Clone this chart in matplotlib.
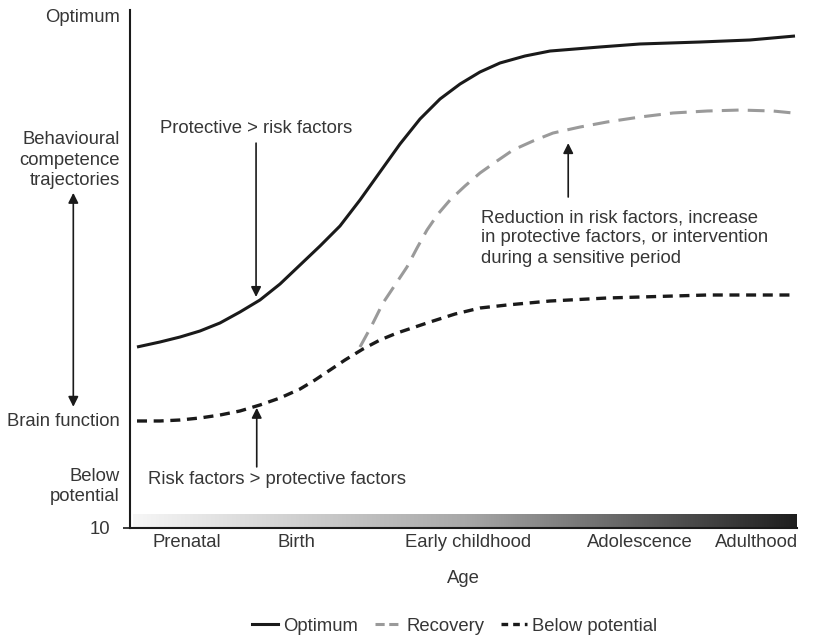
import numpy as np
import matplotlib
matplotlib.use("Agg")
import matplotlib.pyplot as plt
from matplotlib.lines import Line2D
from matplotlib.colors import LinearSegmentedColormap

plt.rcParams['font.family'] = ['Liberation Sans', 'DejaVu Sans']

# curves (x: 0-100 along age, y: 0-100 brain function)
opt_x = [1.05, 4.50, 7.50, 10.49, 13.49, 16.49, 19.49, 22.49, 25.49, 28.49, 31.48, 34.48, 37.48,
         40.48, 43.48, 46.48, 49.48, 52.47, 55.47, 59.22, 62.97, 70.46, 76.46, 85.46, 92.95, 99.70]
opt_y = [34.94, 35.91, 36.87, 38.03, 39.58, 41.70, 44.02, 47.10, 50.77, 54.44, 58.30, 63.32, 68.73,
         74.13, 78.96, 82.82, 85.71, 88.03, 89.77, 91.12, 92.08, 92.86, 93.44, 93.82, 94.21, 94.98]

rec_x = [34.48, 36.28, 37.93, 39.73, 41.53, 43.03, 44.53, 46.18, 47.98, 50.22, 52.47, 55.02,
         57.42, 60.42, 63.42, 67.47, 71.51, 76.46, 81.41, 86.51, 91.45, 96.40, 99.40]
rec_y = [34.94, 39.19, 43.44, 46.91, 50.39, 54.05, 57.53, 60.62, 63.32, 66.02, 68.53, 70.85,
         72.97, 74.71, 76.25, 77.41, 78.38, 79.34, 80.12, 80.50, 80.69, 80.50, 80.12]

below_x = [1.05, 4.50, 7.50, 10.49, 13.49, 16.49, 19.49, 22.49, 25.49, 27.74, 29.99, 32.23,
           34.93, 37.48, 40.03, 42.73, 44.98, 48.73, 52.47, 56.52, 62.97, 71.51, 86.51, 99.70]
below_y = [20.66, 20.66, 20.85, 21.24, 21.81, 22.59, 23.75, 25.10, 26.83, 28.57, 30.50, 32.43,
           34.56, 36.29, 37.64, 38.80, 39.77, 41.31, 42.47, 43.05, 43.82, 44.40, 44.98, 44.98]

stage_pos = [8.5, 25.0, 50.7, 76.5, 93.9]
stage_labels = ['Prenatal', 'Birth', 'Early childhood', 'Adolescence', 'Adulthood']

txt = '#363636'
fs = 13.3

fig = plt.figure(figsize=(8.18, 6.36), dpi=100)
ax = fig.add_axes([130/818, 108/636, 667/818, 518/636])

ax.plot(opt_x, opt_y, color='#1a1a1a', lw=2.2, solid_capstyle='butt', solid_joinstyle='round')
ax.plot(rec_x, rec_y, color='#9a9a9a', lw=2.2, dashes=(5.5, 3))
ax.plot(below_x, below_y, color='#1a1a1a', lw=2.4, dashes=(3, 2))

# gradient bar along the age axis
grad = np.linspace(0, 1, 256).reshape(1, -1)
gcmap = LinearSegmentedColormap.from_list('agebar', ['#f6f6f6', '#a8a8a8', '#1e1e1e'])
ax.imshow(grad, cmap=gcmap, aspect='auto', extent=[0.5, 100, 0, 2.6], zorder=1)

ax.set_xlim(0, 100)
ax.set_ylim(0, 100)
for s in ['top', 'right']:
    ax.spines[s].set_visible(False)
ax.spines['left'].set_color('#1a1a1a')
ax.spines['bottom'].set_color('#1a1a1a')
ax.spines['left'].set_linewidth(1.5)
ax.spines['bottom'].set_linewidth(1.5)

ax.set_xticks(stage_pos)
ax.set_xticklabels(stage_labels, fontsize=fs, color=txt)
ax.tick_params(axis='x', length=0, pad=4)
ax.set_yticks([0])
ax.set_yticklabels(['10'], fontsize=fs, color=txt)
ax.tick_params(axis='y', length=5, width=1.2, pad=9, color='#1a1a1a')
ax.set_xlabel('Age', fontsize=fs, color=txt, labelpad=14)

# left side labels
ax.text(-1.5, 98.5, 'Optimum', ha='right', va='center', fontsize=fs, color=txt, clip_on=False)
ax.text(-1.5, 71.0, 'Behavioural\ncompetence\ntrajectories', ha='right', va='center',
        fontsize=fs, color=txt, linespacing=1.25, clip_on=False)
ax.text(-1.5, 20.5, 'Brain function', ha='right', va='center', fontsize=fs, color=txt, clip_on=False)
ax.text(-1.5, 8.0, 'Below\npotential', ha='right', va='center', fontsize=fs, color=txt,
        linespacing=1.25, clip_on=False)
ax.annotate('', xy=(-8.5, 64.7), xytext=(-8.5, 23.4), annotation_clip=False,
            arrowprops=dict(arrowstyle='<|-|>', color='#1a1a1a', lw=1.2, mutation_scale=15,
                            shrinkA=0, shrinkB=0))

# annotations
arrow = dict(arrowstyle='-|>', color='#1a1a1a', lw=1.2, mutation_scale=15, shrinkA=0, shrinkB=0)
ax.text(4.5, 77.2, 'Protective > risk factors', ha='left', va='center', fontsize=fs, color=txt)
ax.annotate('', xy=(18.9, 44.6), xytext=(18.9, 74.3), arrowprops=arrow)

ax.text(52.6, 56.0, 'Reduction in risk factors, increase\nin protective factors, or intervention\nduring a sensitive period',
        ha='left', va='center', fontsize=fs, color=txt, linespacing=1.25)
ax.annotate('', xy=(65.7, 74.3), xytext=(65.7, 63.9), arrowprops=arrow)

ax.text(2.7, 9.3, 'Risk factors > protective factors', ha='left', va='center', fontsize=fs, color=txt)
ax.annotate('', xy=(19.0, 23.2), xytext=(19.0, 11.8), arrowprops=arrow)

handles = [Line2D([0], [0], color='#1a1a1a', lw=2.2),
           Line2D([0], [0], color='#9a9a9a', lw=2.2, dashes=(3, 1.5)),
           Line2D([0], [0], color='#1a1a1a', lw=2.4, dashes=(2, 1.5))]
leg = fig.legend(handles, ['Optimum', 'Recovery', 'Below potential'], loc='center',
                 bbox_to_anchor=(0.556, 0.015), ncol=3, frameon=False, fontsize=fs,
                 handlelength=1.4, handletextpad=0.3, columnspacing=0.9)
for t in leg.get_texts():
    t.set_color(txt)

fig.savefig('out.png', dpi=100)
